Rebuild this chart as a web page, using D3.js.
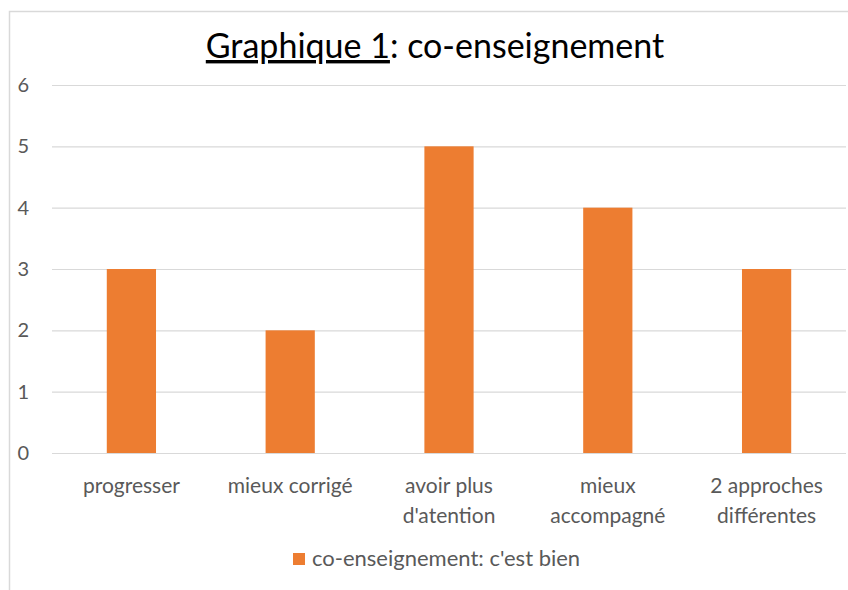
<!DOCTYPE html>
<html>
<head>
<meta charset="utf-8">
<script src="https://cdn.jsdelivr.net/npm/d3@7"></script>
<style>
  body { margin: 0; background: #fff; }
  text { font-family: Lato, "Open Sans", sans-serif; }
</style>
</head>
<body>
<div id="vis"></div>
<script>
// Data
var categories = [['progresser'], ['mieux corrigé'], ['avoir plus', "d'atention"], ['mieux', 'accompagné'], ['2 approches', 'différentes']];
var values = [3, 2, 5, 4, 3];
var yTicks = [0, 1, 2, 3, 4, 5, 6];
var seriesName = "co-enseignement: c'est bien";

var width = 848, height = 590;
var margin = { left: 52, right: 2, top: 85, bottom: 137 };
var drawWidth = width - margin.left - margin.right;
var drawHeight = height - margin.top - margin.bottom;

var svg = d3.select('#vis').append('svg')
    .attr('width', width)
    .attr('height', height);

// chart border (cut at right/bottom like the screenshot)
svg.append('path')
    .attr('d', 'M9.5,' + height + ' L9.5,11.5 L' + width + ',11.5')
    .attr('fill', 'none')
    .attr('stroke', '#d9d9d9')
    .attr('stroke-width', 1.5);

var g = svg.append('g')
    .attr('transform', 'translate(' + margin.left + ',' + margin.top + ')');

var xScale = d3.scaleBand()
    .domain(d3.range(categories.length))
    .range([0, drawWidth])
    .paddingInner(0.69)
    .paddingOuter(0.345);

var yScale = d3.scaleLinear()
    .domain([0, 6])
    .range([drawHeight, 0]);

// gridlines + tick labels
var yAxis = d3.axisLeft(yScale)
    .tickValues(yTicks)
    .tickFormat(d3.format('d'))
    .tickSize(-drawWidth)
    .tickPadding(23);

var yAxisG = g.append('g').call(yAxis);
yAxisG.select('.domain').remove();
yAxisG.selectAll('line').attr('stroke', '#d9d9d9').attr('stroke-width', 1.2);
yAxisG.selectAll('text')
    .attr('fill', '#595959')
    .style('font-size', '20px');

// bars
g.selectAll('rect.bar').data(values).enter().append('rect')
    .attr('class', 'bar')
    .attr('x', function(d, i) { return xScale(i); })
    .attr('width', xScale.bandwidth())
    .attr('y', function(d) { return yScale(d); })
    .attr('height', function(d) { return drawHeight - yScale(d); })
    .attr('fill', '#ed7d31');

// x labels
var xLabels = g.selectAll('text.xlab').data(categories).enter().append('text')
    .attr('class', 'xlab')
    .attr('text-anchor', 'middle')
    .attr('fill', '#595959')
    .style('font-size', '21px')
    .attr('transform', function(d, i) {
        return 'translate(' + (xScale(i) + xScale.bandwidth() / 2) + ',' + (drawHeight + 40) + ')';
    });
xLabels.selectAll('tspan').data(function(d) { return d; }).enter().append('tspan')
    .attr('x', 0)
    .attr('dy', function(d, i) { return i === 0 ? 0 : 30; })
    .text(function(d) { return d; });

// title
var title = svg.append('text')
    .attr('x', 435)
    .attr('y', 58)
    .attr('text-anchor', 'middle')
    .attr('fill', '#000')
    .style('font-size', '34px');
title.append('tspan').attr('text-decoration', 'underline').text('Graphique 1');
title.append('tspan').text(': co-enseignement');

// legend
var legend = svg.append('g').attr('transform', 'translate(293,553)');
legend.append('rect')
    .attr('width', 12).attr('height', 12)
    .attr('fill', '#ed7d31');
legend.append('text')
    .attr('x', 19).attr('y', 13)
    .attr('fill', '#595959')
    .style('font-size', '22px')
    .text(seriesName);
</script>
</body>
</html>
